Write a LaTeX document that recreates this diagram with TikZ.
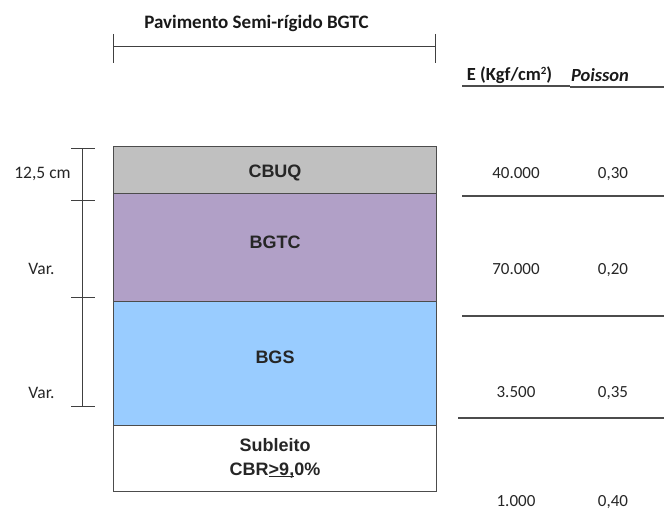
\documentclass[tikz,border=0pt]{standalone}
\usepackage{fontspec}
\setmainfont{Carlito}
\newfontfamily\arialf{Liberation Sans}
\newsavebox{\ulbox}
\newcommand{\thickul}[1]{\sbox{\ulbox}{#1}\rlap{\rule[-2.4pt]{\wd\ulbox}{1.8pt}}\usebox{\ulbox}}
\begin{document}
\begin{tikzpicture}[x=1pt,y=-1pt,
  dimln/.style={draw=black!75, line width=0.9pt},
  tblln/.style={draw=black!70, line width=1.1pt},
  layerbox/.style={draw=black!70, line width=1pt},
  layertxt/.style={font=\arialf\bfseries\fontsize{18}{20}\selectfont, text=black!85, inner sep=0pt, anchor=base},
  valtxt/.style={font=\fontsize{17}{20}\selectfont, text=black!85, inner sep=0pt, anchor=base},
  headtxt/.style={font=\bfseries\fontsize{18.5}{20}\selectfont, text=black!90, inner sep=0pt, anchor=base}]
\useasboundingbox (0,0) rectangle (664,511);
% title and width dimension
\node[headtxt, font=\bfseries\fontsize{19}{20}\selectfont] (title) at (256.5,29) {Pavimento Semi-rígido BGTC};
\coordinate (wl) at (113,46);
\coordinate (wr) at (435,46);
\draw[dimln] (wl) -- (wr);
\draw[dimln] (113,34) -- (113,63);
\draw[dimln] (435,34) -- (435,63);
% layers
\draw[layerbox, fill={rgb,255:red,192;green,192;blue,192}] (113,146) rectangle (436,193);
\draw[layerbox, fill={rgb,255:red,177;green,160;blue,199}] (113,193) rectangle (436,301);
\draw[layerbox, fill={rgb,255:red,153;green,204;blue,255}] (113,301) rectangle (436,425);
\draw[layerbox, fill=white] (113,425) rectangle (436,491);
\node[layertxt] (cbuq) at (275,177.5) {CBUQ};
\node[layertxt] (bgtc) at (275,248.5) {BGTC};
\node[layertxt] (bgs) at (275,363.5) {BGS};
\node[layertxt] (sub) at (275,451) {Subleito};
\node[layertxt] (cbr) at (275,475) {CBR\thickul{>9,}0\%};
% left dimension
\coordinate (d0) at (82,148);
\coordinate (d3) at (82,406);
\draw[dimln] (d0) -- (d3);
\foreach \yy in {148,200,297,406} \draw[dimln] (71,\yy) -- (95,\yy);
\node[valtxt, font=\fontsize{17.5}{20}\selectfont] (l1) at (42.5,178) {12,5 cm};
\node[valtxt, font=\fontsize{17.5}{20}\selectfont] (l2) at (41.5,274) {Var.};
\node[valtxt, font=\fontsize{17.5}{20}\selectfont] (l3) at (41.5,398) {Var.};
% table header
\node[headtxt] (ehead) at (509.5,81) {E (Kgf/cm{\fontsize{11}{12}\selectfont\raisebox{6pt}{2}})};
\node[headtxt, font=\bfseries\itshape\fontsize{18.5}{20}\selectfont] (phead) at (600,81.5) {Poisson};
\draw[tblln] (462,86) -- (570,86);
\draw[tblln] (570,87) -- (664,87);
% values
\node[valtxt] (e1) at (516,178.5) {40.000};
\node[valtxt] (p1) at (613,178.5) {0,30};
\draw[tblln] (462,196) -- (664,196);
\node[valtxt] (e2) at (516,274) {70.000};
\node[valtxt] (p2) at (613,274) {0,20};
\draw[tblln] (462,316) -- (664,316);
\node[valtxt] (e3) at (516,397.5) {3.500};
\node[valtxt] (p3) at (613,397.5) {0,35};
\draw[tblln] (458,418) -- (664,418);
\node[valtxt] (e4) at (516,506) {1.000};
\node[valtxt] (p4) at (613,506) {0,40};
\end{tikzpicture}
\end{document}
